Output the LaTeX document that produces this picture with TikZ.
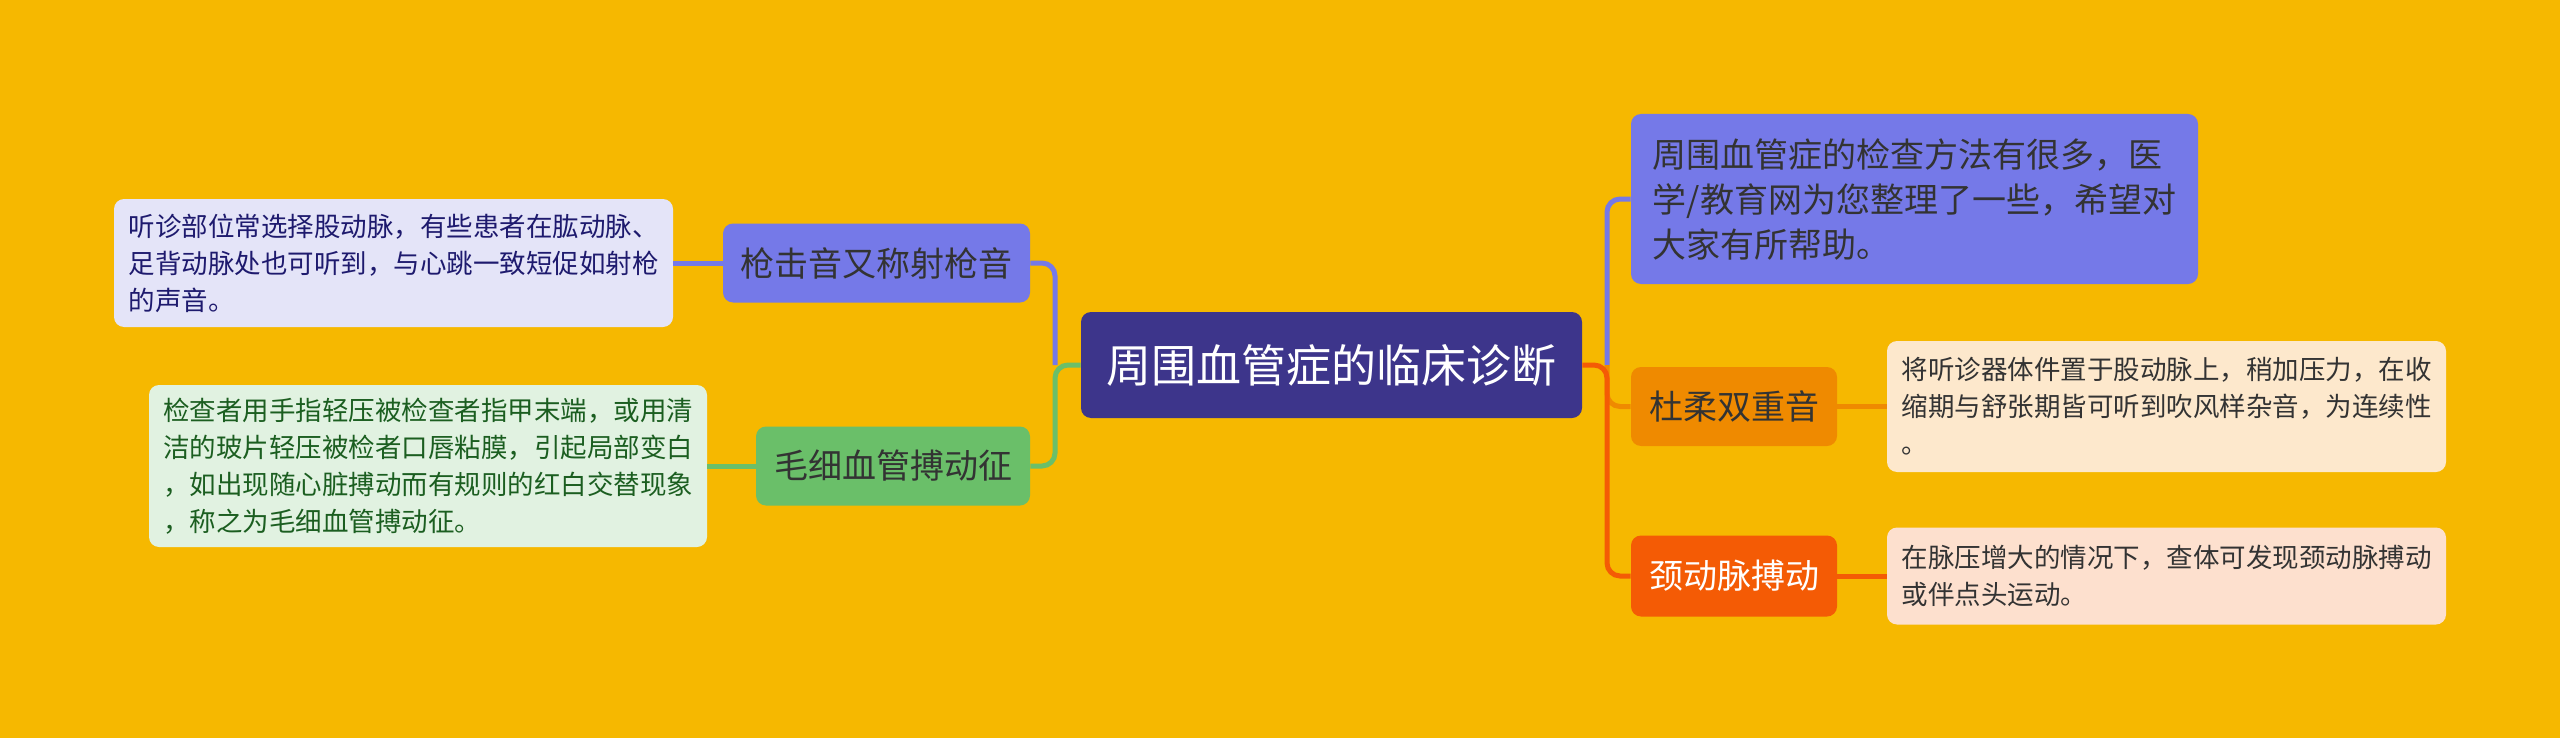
\documentclass[tikz,border=0pt]{standalone}
\usepackage{fontspec}
\setmainfont{Noto Sans CJK SC}
\definecolor{bgyellow}{HTML}{F6B800}
\definecolor{rootblue}{HTML}{3D358B}
\definecolor{lavblue}{HTML}{7579E8}
\definecolor{leafgreen}{HTML}{6ABF69}
\definecolor{deeporange}{HTML}{EF8A00}
\definecolor{redorange}{HTML}{F45B05}
\definecolor{lavpale}{HTML}{E4E4F8}
\definecolor{greenpale}{HTML}{E1F2E1}
\definecolor{peachpale}{HTML}{FDE8CC}
\definecolor{pinkpale}{HTML}{FDE0CE}
\definecolor{navytext}{HTML}{1E1A6E}
\definecolor{greentext}{HTML}{1B5E20}
\definecolor{darktext}{HTML}{333333}
\tikzset{
	box/.style={rounded corners=5pt,inner sep=0pt,align=left},
	topic/.style={box,text=darktext,font=\fontsize{17}{22.5}\selectfont,minimum height=39.5pt},
	note/.style={box,text=darktext,font=\fontsize{13.25}{18.5}\selectfont,minimum width=279.5pt},
	link/.style={line width=2.5pt,rounded corners=6.5pt}
}
\begin{document}
\begin{tikzpicture}[x=0.5pt,y=-0.5pt]
		\fill[bgyellow](0,0) rectangle (2560,738);
		
		\node[box][fill=rootblue,text=white,font=\fontsize{22.5}{27}\selectfont,minimum width=250.5pt,minimum height=53pt](root) at (1331.5,365) {周围血管症的临床诊断};
		
		\node[topic][fill=lavblue,minimum width=153.5pt](gun) at (876.5,263) {枪击音又称射枪音};
		\node[topic][fill=leafgreen,minimum width=137pt](capil) at (893,466) {毛细血管搏动征};
		\node[note][fill=lavpale,text=navytext,minimum height=64pt](gunnote) at (393.5,263) {听诊部位常选择股动脉，有些患者在肱动脉、\\足背动脉处也可听到，与心跳一致短促如射枪\\的声音。};
		\node[note][fill=greenpale,text=greentext,minimum width=279pt,minimum height=81pt](capilnote) at (428,466) {检查者用手指轻压被检查者指甲末端，或用清\\洁的玻片轻压被检者口唇粘膜，引起局部变白\\，如出现随心脏搏动而有规则的红白交替现象\\，称之为毛细血管搏动征。};
		
		\node[topic][fill=lavblue,minimum width=283.5pt,minimum height=85pt](intro) at (1914.5,199) {周围血管症的检查方法有很多，医\\学/教育网为您整理了一些，希望对\\大家有所帮助。};
		\node[topic][fill=deeporange,minimum width=103pt](duro) at (1734,406.5) {杜柔双重音};
		\node[topic][fill=redorange,text=white,minimum width=103pt,minimum height=40.5pt](carot) at (1734,576) {颈动脉搏动};
		\node[note][fill=peachpale,minimum height=65.5pt](duronote) at (2166.5,406.5) {将听诊器体件置于股动脉上，稍加压力，在收\\缩期与舒张期皆可听到吹风样杂音，为连续性\\。};
		\node[note][fill=pinkpale,minimum height=48.5pt](carotnote) at (2166.5,576) {在脉压增大的情况下，查体可发现颈动脉搏动\\或伴点头运动。};
		
		\coordinate (lj) at (1055,365);
		\coordinate (rj) at (1607,365);
		
		\draw[link][lavblue](lj)|-(gun.east);
		\draw[link][leafgreen](root.west)--(lj)|-(capil.east);
		\draw[link][lavblue](gun.west)--(gunnote.east);
		\draw[link][leafgreen](capil.west)--(capilnote.east);
		
		\draw[link][lavblue](rj)|-(intro.west);
		\draw[link][deeporange](rj)|-(duro.west);
		\draw[link][redorange](root.east)--(rj)|-(carot.west);
		\draw[link][deeporange](duro.east)--(duronote.west);
		\draw[link][redorange](carot.east)--(carotnote.west);
\end{tikzpicture}
\end{document}
